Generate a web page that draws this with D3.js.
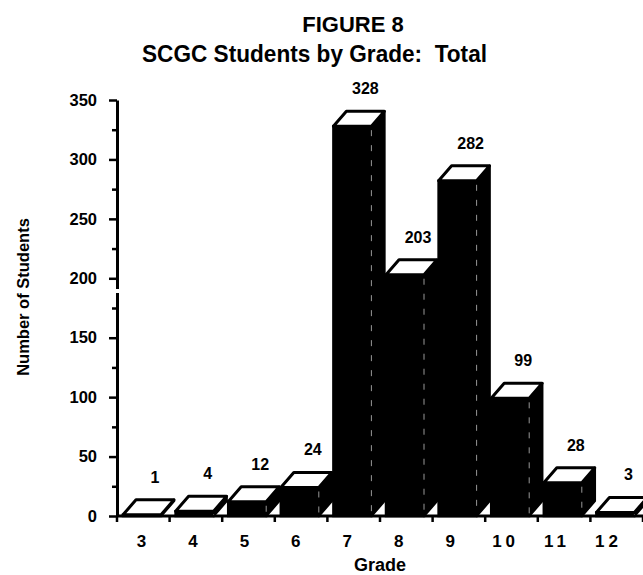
<!DOCTYPE html>
<html>
<head>
<meta charset="utf-8">
<script src="https://cdn.jsdelivr.net/npm/d3@7"></script>
<style>
    body { margin: 0; background: #fff; }
    text { font-family: "Liberation Sans", Arial, sans-serif; font-weight: bold; fill: #000; }
</style>
</head>
<body>
<script>
// Données
const grades = ['3', '4', '5', '6', '7', '8', '9', '10', '11', '12']
const students = [1, 4, 12, 24, 328, 203, 282, 99, 28, 3]
const yTicks = [0, 50, 100, 150, 200, 250, 300, 350]
const yMinorTicks = [25, 75, 125, 175, 225, 275, 325]

const width = 643,
    height = 575

const svg = d3.select('body').append('svg')
    .attr('width', width)
    .attr('height', height)

// Echelles
const x = d3.scaleBand()
    .domain(grades)
    .range([117, 643])
    .padding(0)

// les étiquettes de l'axe X ne sont pas tout à fait centrées sur les catégories
const xLabel = d3.scalePoint()
    .domain(grades)
    .range([143, 606])

const y = d3.scaleLinear()
    .domain([0, 350])
    .range([516, 100])

// Géométrie des barres 3D
const offset = 6, frontW = 38, depthX = 13, depthY = 15

// Titre
svg.append('text')
    .attr('x', 353)
    .attr('y', 32)
    .attr('text-anchor', 'middle')
    .style('font-size', '22px')
    .text('FIGURE 8')

svg.append('text')
    .attr('x', 142)
    .attr('y', 62)
    .attr('textLength', 345)
    .attr('lengthAdjust', 'spacingAndGlyphs')
    .style('font-size', '23px')
    .style('white-space', 'pre')
    .text('SCGC Students by Grade:  Total')

// Barres
const bars = svg.append('g')
    .selectAll('g')
    .data(grades.map((g, i) => ({ grade: g, value: students[i] })))
    .join('g')

// face avant
bars.append('rect')
    .attr('x', d => x(d.grade) + offset)
    .attr('y', d => y(d.value))
    .attr('width', frontW)
    .attr('height', d => y(0) - y(d.value))
    .attr('fill', '#000')
    .attr('stroke', '#000')
    .attr('stroke-width', 2.5)

// face de côté
bars.append('path')
    .attr('d', d => {
        const xr = x(d.grade) + offset + frontW
        return `M${xr},${y(0)} L${xr + depthX},${y(0) - depthY} L${xr + depthX},${y(d.value) - depthY} L${xr},${y(d.value)} Z`
    })
    .attr('fill', '#000')
    .attr('stroke', '#000')
    .attr('stroke-width', 2.5)
    .attr('stroke-linejoin', 'round')

// fine séparation blanche entre la face avant et le côté
bars.append('line')
    .attr('x1', d => x(d.grade) + offset + frontW)
    .attr('x2', d => x(d.grade) + offset + frontW)
    .attr('y1', d => y(d.value) + 4)
    .attr('y2', y(0) - 2)
    .attr('stroke', '#fff')
    .attr('stroke-width', 0.6)
    .attr('stroke-dasharray', '6,9')

// face du dessus (blanche)
bars.append('path')
    .attr('d', d => {
        const xl = x(d.grade) + offset
        const yt = y(d.value)
        return `M${xl},${yt} L${xl + depthX},${yt - depthY} L${xl + frontW + depthX},${yt - depthY} L${xl + frontW},${yt} Z`
    })
    .attr('fill', '#fff')
    .attr('stroke', '#000')
    .attr('stroke-width', 3)
    .attr('stroke-linejoin', 'round')

// Valeurs au-dessus des barres
bars.append('text')
    .attr('x', d => x(d.grade) + offset + depthX + frontW / 2)
    .attr('y', d => y(d.value) - depthY - 17)
    .attr('text-anchor', 'middle')
    .style('font-size', '16px')
    .text(d => d.value)

// Axe Y
const yAxis = svg.append('g')
    .attr('transform', 'translate(117,0)')
    .call(d3.axisLeft(y).tickValues(yTicks).tickSize(8).tickPadding(12).tickSizeOuter(0))

yAxis.select('.domain').attr('stroke-width', 3)
yAxis.selectAll('.tick line').attr('stroke-width', 2.5)
yAxis.selectAll('.tick text')
    .style('font-family', '"Liberation Sans", Arial, sans-serif')
    .style('font-weight', 'bold')
    .style('font-size', '16.5px')

const yMinor = svg.append('g')
    .attr('transform', 'translate(117,0)')
    .call(d3.axisLeft(y).tickValues(yMinorTicks).tickSize(5).tickFormat(''))
yMinor.select('.domain').remove()
yMinor.selectAll('.tick line').attr('stroke-width', 2.5)

// petite coupure de l'axe
svg.append('rect')
    .attr('x', 114)
    .attr('y', 289)
    .attr('width', 6)
    .attr('height', 4)
    .attr('fill', '#fff')

// Axe X : la ligne
svg.append('line')
    .attr('x1', x.range()[0])
    .attr('x2', x.range()[1])
    .attr('y1', y(0))
    .attr('y2', y(0))
    .attr('stroke', '#000')
    .attr('stroke-width', 3)

// Axe X : les étiquettes
const xAxis = svg.append('g')
    .attr('transform', `translate(0,${y(0)})`)
    .call(d3.axisBottom(xLabel).tickSize(0).tickPadding(19))

xAxis.select('.domain').remove()
xAxis.selectAll('.tick text')
    .attr('dx', d => d.length > 1 ? 2 : 0)
    .style('font-family', '"Liberation Sans", Arial, sans-serif')
    .style('font-weight', 'bold')
    .style('font-size', '17px')
    .style('letter-spacing', '4px')

// graduations entre les catégories
svg.append('g')
    .selectAll('line')
    .data(grades.map(g => x(g)).concat([x.range()[1]]))
    .join('line')
    .attr('x1', d => d)
    .attr('x2', d => d)
    .attr('y1', y(0))
    .attr('y2', y(0) + 6)
    .attr('stroke', '#000')
    .attr('stroke-width', 2.5)

// Titres des axes
svg.append('text')
    .attr('x', 380)
    .attr('y', 571)
    .attr('text-anchor', 'middle')
    .style('font-size', '18px')
    .text('Grade')

svg.append('text')
    .attr('transform', 'translate(29,297) rotate(-90)')
    .attr('text-anchor', 'middle')
    .style('font-size', '16.5px')
    .text('Number of Students')
</script>
</body>
</html>
